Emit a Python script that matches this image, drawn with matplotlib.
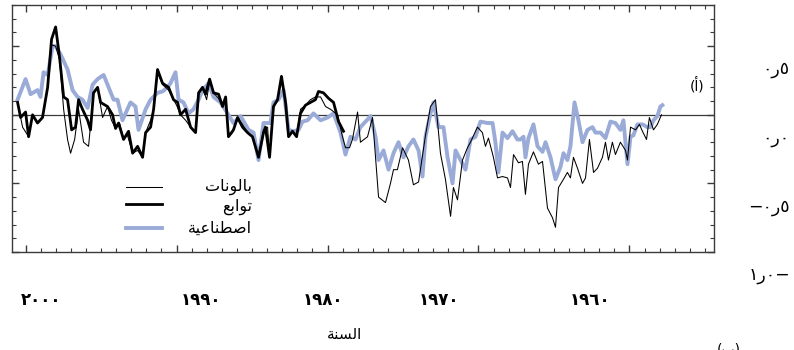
import matplotlib
matplotlib.use("Agg")

import matplotlib.pyplot as plt
import matplotlib.ticker as ticker
import matplotlib.transforms as mtransforms
from matplotlib.lines import Line2D

plt.rcParams["font.family"] = ["DejaVu Sans", "Noto Sans"]

# ── Data (anomaly in deg C, x axis reversed) ─────────────────────────────────
balloon_years = [
    2000.53, 2000.20, 1999.80, 1999.54, 1999.21, 1998.88, 1998.54, 1998.28, 1998.01, 1997.75,
    1997.48, 1997.22, 1997.02, 1996.75, 1996.49, 1996.16, 1995.83, 1995.50, 1995.23, 1994.90,
    1994.57, 1994.31, 1994.04, 1993.78, 1993.51, 1993.25, 1992.91, 1992.58, 1992.25, 1992.05,
    1991.72, 1991.52, 1991.26, 1990.93, 1990.53, 1990.20, 1990.00, 1989.74, 1989.40, 1989.07,
    1988.74, 1988.54, 1988.28, 1988.01, 1987.81, 1987.48, 1987.22, 1986.95, 1986.75, 1986.56,
    1986.29, 1985.96, 1985.63, 1985.30, 1984.97, 1984.57, 1984.24, 1983.97, 1983.84, 1983.58,
    1983.31, 1983.05, 1982.78, 1982.58, 1982.32, 1982.05, 1981.79, 1981.46, 1981.13, 1980.80,
    1980.46, 1980.13, 1979.80, 1979.34, 1979.01, 1978.81, 1978.54, 1978.35, 1978.01, 1977.82,
    1977.35, 1977.02, 1976.62, 1976.16, 1975.83, 1975.63, 1975.37, 1975.03, 1974.64, 1974.31,
    1973.97, 1973.51, 1973.18, 1972.85, 1972.52, 1972.19, 1971.85, 1971.66, 1971.39, 1971.06,
    1970.73, 1970.53, 1970.07, 1969.74, 1969.54, 1969.34, 1969.01, 1968.74, 1968.41, 1968.08,
    1967.88, 1967.68, 1967.35, 1967.09, 1966.89, 1966.69, 1966.36, 1966.03, 1965.76, 1965.43,
    1965.10, 1964.90, 1964.70, 1964.37, 1964.11, 1963.91, 1963.71, 1963.44, 1963.11, 1962.91,
    1962.65, 1962.38, 1962.12, 1961.79, 1961.59, 1961.39, 1961.13, 1960.93, 1960.60, 1960.26,
    1960.13, 1959.93, 1959.60, 1959.34, 1959.14, 1958.87, 1958.68, 1958.41, 1958.15, 1957.88,
]
balloon_vals = [
    0.09, -0.09, -0.16, 0.00, -0.06, -0.02, 0.20, 0.51, 0.50, 0.40,
    0.04, -0.18, -0.28, -0.18, 0.04, -0.20, -0.23, 0.15, 0.20, -0.02,
    0.06, -0.04, -0.10, -0.06, -0.18, -0.15, -0.28, -0.26, -0.31, -0.13,
    -0.04, 0.04, 0.31, 0.22, 0.18, 0.11, 0.07, 0.00, -0.04, -0.09,
    -0.13, 0.15, 0.20, 0.11, 0.24, 0.15, 0.12, 0.06, 0.13, -0.16,
    -0.13, -0.02, -0.07, -0.13, -0.16, -0.31, -0.11, -0.09, -0.31, 0.06,
    0.11, 0.28, 0.09, -0.16, -0.12, -0.16, 0.04, 0.07, 0.11, 0.13,
    0.13, 0.06, 0.04, 0.00, -0.16, -0.24, -0.24, -0.18, 0.02, -0.20,
    -0.16, -0.02, -0.60, -0.64, -0.50, -0.40, -0.40, -0.24, -0.33, -0.51,
    -0.49, -0.15, 0.06, 0.11, -0.28, -0.47, -0.74, -0.53, -0.62, -0.33,
    -0.24, -0.20, -0.09, -0.13, -0.23, -0.17, -0.31, -0.46, -0.45, -0.46,
    -0.53, -0.29, -0.35, -0.34, -0.58, -0.36, -0.27, -0.36, -0.34, -0.68,
    -0.75, -0.82, -0.53, -0.47, -0.42, -0.46, -0.31, -0.39, -0.50, -0.46,
    -0.18, -0.42, -0.39, -0.31, -0.20, -0.33, -0.20, -0.29, -0.20, -0.26,
    -0.33, -0.09, -0.11, -0.07, -0.12, -0.18, -0.02, -0.11, -0.07, 0.00,
]

satellite_years = [
    2000.53, 2000.33, 2000.00, 1999.80, 1999.54, 1999.21, 1998.88, 1998.54, 1998.28, 1998.01,
    1997.75, 1997.48, 1997.22, 1996.95, 1996.69, 1996.49, 1996.23, 1995.89, 1995.70, 1995.50,
    1995.23, 1995.03, 1994.57, 1994.24, 1994.04, 1993.84, 1993.51, 1993.18, 1992.91, 1992.58,
    1992.25, 1992.05, 1991.72, 1991.52, 1991.26, 1990.93, 1990.53, 1990.20, 1989.93, 1989.74,
    1989.40, 1989.07, 1988.74, 1988.54, 1988.28, 1988.08, 1987.81, 1987.55, 1987.22, 1986.95,
    1986.75, 1986.56, 1986.23, 1985.96, 1985.63, 1985.30, 1984.97, 1984.57, 1984.24, 1984.11,
    1983.84, 1983.58, 1983.31, 1983.05, 1982.78, 1982.58, 1982.32, 1982.05, 1981.79, 1981.46,
    1981.13, 1980.80, 1980.60, 1980.27, 1979.93, 1979.60, 1979.27, 1978.94,
]
satellite_vals = [
    0.09, -0.02, 0.02, -0.16, 0.00, -0.06, -0.02, 0.20, 0.55, 0.64,
    0.42, 0.13, 0.11, -0.11, -0.09, 0.11, 0.04, -0.04, -0.11, 0.16,
    0.20, 0.09, 0.06, 0.00, -0.10, -0.06, -0.18, -0.12, -0.28, -0.23,
    -0.31, -0.13, -0.09, 0.04, 0.33, 0.23, 0.20, 0.11, 0.09, 0.00,
    0.04, -0.09, -0.13, 0.16, 0.20, 0.15, 0.26, 0.16, 0.15, 0.06,
    0.13, -0.16, -0.11, -0.02, -0.09, -0.13, -0.16, -0.31, -0.13, -0.09,
    -0.31, 0.06, 0.11, 0.28, 0.09, -0.16, -0.12, -0.16, 0.01, 0.07,
    0.09, 0.11, 0.17, 0.16, 0.12, 0.09, -0.05, -0.12,
]

model_years = [
    2000.53, 2000.00, 1999.67, 1999.21, 1999.01, 1998.81, 1998.54, 1998.21, 1998.01, 1997.68,
    1997.22, 1996.89, 1996.56, 1996.23, 1995.89, 1995.56, 1995.23, 1994.83, 1994.50, 1994.17,
    1993.91, 1993.58, 1993.38, 1993.05, 1992.72, 1992.52, 1992.05, 1991.72, 1991.26, 1990.93,
    1990.60, 1990.40, 1990.07, 1989.87, 1989.54, 1989.21, 1988.88, 1988.54, 1988.28, 1987.88,
    1987.55, 1987.09, 1986.62, 1986.23, 1985.76, 1985.23, 1984.90, 1984.57, 1984.24, 1983.78,
    1983.58, 1983.25, 1982.91, 1982.58, 1982.25, 1981.92, 1981.66, 1981.32, 1980.93, 1980.46,
    1980.00, 1979.60, 1979.14, 1978.81, 1978.48, 1978.15, 1977.82, 1977.48, 1977.15, 1976.82,
    1976.62, 1976.29, 1975.96, 1975.63, 1975.30, 1974.97, 1974.64, 1974.31, 1973.97, 1973.71,
    1973.51, 1973.18, 1972.98, 1972.65, 1972.32, 1972.05, 1971.72, 1971.52, 1971.19, 1970.86,
    1970.53, 1970.20, 1969.87, 1969.40, 1969.07, 1968.88, 1968.68, 1968.41, 1968.08, 1967.75,
    1967.42, 1967.22, 1967.02, 1966.89, 1966.69, 1966.36, 1966.09, 1965.76, 1965.56, 1965.23,
    1964.90, 1964.57, 1964.37, 1964.11, 1963.91, 1963.64, 1963.38, 1963.11, 1962.78, 1962.45,
    1962.25, 1961.92, 1961.59, 1961.26, 1960.93, 1960.60, 1960.40, 1960.13, 1959.93, 1959.74,
    1959.47, 1959.14, 1958.81, 1958.61, 1958.41, 1958.15, 1957.95, 1957.82,
]
model_vals = [
    0.11, 0.26, 0.15, 0.18, 0.13, 0.31, 0.29, 0.50, 0.50, 0.44,
    0.33, 0.18, 0.13, 0.11, 0.05, 0.22, 0.26, 0.29, 0.20, 0.11,
    0.11, -0.04, 0.01, 0.09, 0.06, -0.11, 0.04, 0.11, 0.16, 0.17,
    0.20, 0.23, 0.31, 0.11, 0.09, 0.01, 0.04, 0.11, 0.18, 0.23,
    0.13, 0.09, 0.01, -0.06, -0.01, -0.11, -0.13, -0.33, -0.06, -0.06,
    0.09, 0.11, 0.18, -0.11, -0.12, -0.11, -0.05, -0.04, 0.01, -0.04,
    -0.02, 0.01, -0.13, -0.29, -0.16, -0.18, -0.09, -0.05, -0.01, -0.16,
    -0.33, -0.26, -0.40, -0.28, -0.20, -0.31, -0.23, -0.18, -0.26, -0.45,
    -0.16, 0.01, 0.09, -0.09, -0.09, -0.31, -0.50, -0.26, -0.33, -0.40,
    -0.18, -0.16, -0.05, -0.06, -0.06, -0.20, -0.42, -0.13, -0.17, -0.12,
    -0.18, -0.18, -0.16, -0.31, -0.17, -0.07, -0.23, -0.27, -0.20, -0.31,
    -0.47, -0.38, -0.28, -0.33, -0.23, 0.09, -0.04, -0.20, -0.11, -0.09,
    -0.13, -0.13, -0.17, -0.05, -0.06, -0.11, -0.04, -0.36, -0.16, -0.15,
    -0.07, -0.07, -0.09, -0.09, -0.04, -0.01, 0.06, 0.07,
]

# tick labels (Arabic-Indic digits, written in display order)
xlabel_years = [1999.0, 1988.4, 1980.3, 1972.6, 1962.6]
xlabel_text = ["\u0662\u0660\u0660\u0660", "\u0661\u0669\u0669\u0660", "\u0661\u0669\u0668\u0660",
               "\u0661\u0669\u0667\u0660", "\u0661\u0669\u0666\u0660"]
ylabel_vals = [0.5, 0.0, -0.5, -1.0]
ylabel_text = ["\u0660\ufead\u0665", "\u0660\ufead\u0660", "\u2212\u0660\ufead\u0665",
               "\u0661\ufead\u0660\u2212"]

# legend / labels (Arabic presentation forms, display order)
LBL_BALLOON = "\ufe95\ufe8e\ufee7\ufeee\ufedf\ufe8e\ufe91"
LBL_SAT1 = "\ufeca\ufe91\ufe8d\ufeee\ufe97"
LBL_SAT2 = "\ufe94\ufef4\ufecb\ufe8e\ufee8\ufec4\ufebb\ufe8d"
LBL_YEAR = "\ufe94\ufee8\ufeb4\ufedf\ufe8d"
PANEL_A = "(\ufe83)"
PANEL_B = "(\ufe8f)"

BLUE = "#9aabd8"
EDGE = "#3a3a3a"

# ── Figure ───────────────────────────────────────────────────────────────────
fig = plt.figure(figsize=(7.94, 3.5), dpi=100)
ax = fig.add_axes([12 / 794, 98 / 350, 702 / 794, 247 / 350])

ax.axhline(0.0, color=EDGE, linewidth=0.9, zorder=1)
ax.plot(model_years, model_vals, color=BLUE, linewidth=2.8, zorder=2)
ax.plot(balloon_years, balloon_vals, color="black", linewidth=0.75, zorder=3)
ax.plot(satellite_years, satellite_vals, color="black", linewidth=2.0, zorder=4)

ax.set_xlim(2000.9, 1954.4)
ax.set_ylim(-1.0, 0.8)

ax.xaxis.set_major_locator(ticker.MultipleLocator(10))
ax.xaxis.set_minor_locator(ticker.MultipleLocator(1))
ax.yaxis.set_major_locator(ticker.MultipleLocator(0.5))
ax.yaxis.set_minor_locator(ticker.MultipleLocator(0.1))
ax.tick_params(which="both", direction="in", top=True, right=True, color=EDGE,
               labelbottom=False, labelleft=False)
ax.tick_params(which="major", length=5, width=1.0)
ax.tick_params(which="minor", length=3, width=0.8)
for sp in ax.spines.values():
    sp.set_color(EDGE)
    sp.set_linewidth(1.0)

# tick labels as text (positions as in the reference)
xt = mtransforms.blended_transform_factory(ax.transData, ax.transAxes)
for yr, s in zip(xlabel_years, xlabel_text):
    ax.text(yr, -0.195, s, transform=xt, ha="center", va="center", fontsize=12,
            fontweight="bold", clip_on=False)
yt = mtransforms.blended_transform_factory(ax.transAxes, ax.transData)
for v, s in zip(ylabel_vals, ylabel_text):
    ax.text(1.108, v - 0.17, s, transform=yt, ha="right", va="center", fontsize=12.5,
            clip_on=False)

ax.text(0.976, 0.676, PANEL_A, transform=ax.transAxes, ha="center", va="center", fontsize=10)
fig.text(0.434, 0.043, LBL_YEAR, ha="center", va="center", fontsize=11)
fig.text(0.918, 0.0, PANEL_B, ha="center", va="center", fontsize=10)

# ── Legend (drawn by hand, text right-aligned) ───────────────────────────────
leg_items = [
    (0.263, 0.263, LBL_BALLOON, "black", 0.75),
    (0.194, 0.182, LBL_SAT1, "black", 2.0),
    (0.097, 0.097, LBL_SAT2, BLUE, 2.8),
]
for yl, ytxt, s, c, lw in leg_items:
    ax.add_line(Line2D([0.162, 0.214], [yl, yl], transform=ax.transAxes,
                       color=c, linewidth=lw))
    ax.text(0.342, ytxt, s, transform=ax.transAxes, ha="right", va="center", fontsize=11.5)

fig.savefig("out.png", dpi=100)
plt.close(fig)
